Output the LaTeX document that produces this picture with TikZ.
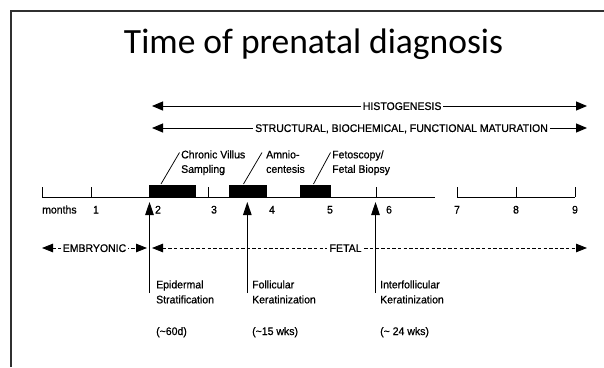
\documentclass[tikz,border=0pt]{standalone}
\usepackage{fontspec}
\usetikzlibrary{arrows.meta}
\newfontfamily\titlefont{Carlito}
\newfontfamily\labfont[FakeBold=0.7,FakeStretch=0.955]{Liberation Sans}
\definecolor{framegray}{HTML}{303030}
\tikzset{
  lab/.style={font=\labfont\fontsize{11}{14.5}\selectfont, inner sep=0pt},
  lablow/.style={font=\labfont\fontsize{11}{15}\selectfont, inner sep=0pt, align=left, anchor=north west},
  labup/.style={font=\labfont\fontsize{11}{14.5}\selectfont, inner sep=0pt, align=left, anchor=north west},
  harr/.style={line width=1pt, {Triangle[length=11pt,width=9pt]}-{Triangle[length=11pt,width=9pt]}},
  darr/.style={line width=0.85pt, dash pattern=on 3.4pt off 2.2pt, {Triangle[length=11pt,width=8.5pt]}-{Triangle[length=11pt,width=8.5pt]}},
  varr/.style={line width=1pt, -{Triangle[length=13pt,width=8.5pt]}},
  onlab/.style={font=\labfont\fontsize{11}{12}\selectfont, fill=white, inner xsep=2pt, inner ysep=1pt, text height=7.9pt, text depth=0pt},
  boxnode/.style={fill=black, inner sep=0pt, minimum height=12.5pt},
  tickline/.style={line width=0.9pt},
  leader/.style={line width=0.75pt},
}
\begin{document}
\begin{tikzpicture}[x=1pt,y=-1pt]
\useasboundingbox (0,0) rectangle (604,367);
% slide frame
\draw[framegray, line width=2.2pt] (11,367) -- (11,11) -- (604,11);
% title
\node[font=\titlefont\fontsize{35.5}{40}\selectfont, inner sep=0pt, anchor=base] (title) at (313.5,53) {Time of prenatal diagnosis};
% long arrows
\coordinate (hL) at (152,106); \coordinate (hR) at (587,106);
\draw[harr] (hL) -- node[onlab, pos=0.575] (histo) {HISTOGENESIS} (hR);
\coordinate (sL) at (152,128); \coordinate (sR) at (587,128);
\draw[harr] (sL) -- node[onlab, pos=0.5736] (struct) {STRUCTURAL, BIOCHEMICAL, FUNCTIONAL MATURATION} (sR);
% axis
\coordinate (ax1) at (42,197); \coordinate (ax2) at (435,197);
\coordinate (ax3) at (457,197); \coordinate (ax4) at (575,197);
\draw[tickline] (ax1) -- (ax2);
\draw[tickline] (ax3) -- (ax4);
\foreach \x/\nm in {42/t0,91/t1,208/t3,376/t6,457/t7,516/t8,575/t9}{
  \coordinate (\nm a) at (\x,187); \coordinate (\nm b) at (\x,197);
  \draw[tickline] (\nm a) -- (\nm b);
}
% boxes
\node[boxnode, minimum width=47pt] (cvs) at (172.5,191.25) {};
\node[boxnode, minimum width=38pt] (amn) at (248,191.25) {};
\node[boxnode, minimum width=31pt] (fet) at (315.5,191.25) {};
% procedure labels
\node[labup] (cvslab) at (181,150.2) {Chronic Villus\\Sampling};
\node[labup] (amnlab) at (266,150.2) {Amnio-\\centesis};
\node[labup] (fetlab) at (332,150.2) {Fetoscopy/\\Fetal Biopsy};
\coordinate (l1a) at (161,184); \coordinate (l1b) at (179.5,152.5);
\coordinate (l2a) at (243.5,184); \coordinate (l2b) at (262,152.5);
\coordinate (l3a) at (313.5,184); \coordinate (l3b) at (330.5,152.5);
\draw[leader] (l1a) -- (l1b);
\draw[leader] (l2a) -- (l2b);
\draw[leader] (l3a) -- (l3b);
% axis labels
\node[lab, anchor=base west] (months) at (42,213.5) {months};
\foreach \x/\n in {96/1,158/2,214/3,272/4,330/5,389/6,457/7,516/8,575/9}{
  \node[lab, anchor=base] (num\n) at (\x,213.5) {\n};
}
% embryonic / fetal
\coordinate (eL) at (42,248); \coordinate (eR) at (147,248);
\draw[darr] (eL) -- node[onlab, pos=0.5, inner xsep=1.5pt] (emb) {EMBRYONIC} (eR);
\coordinate (fL) at (152,248); \coordinate (fR) at (587,248);
\draw[darr] (fL) -- node[onlab, pos=0.445, inner xsep=2.5pt] (fetal) {FETAL} (fR);
% vertical arrows
\coordinate (v1b) at (149.5,293); \coordinate (v1t) at (149.5,202);
\coordinate (v2b) at (247.3,293); \coordinate (v2t) at (247.3,202);
\coordinate (v3b) at (375.5,293); \coordinate (v3t) at (375.5,202);
\draw[varr] (v1b) -- (v1t);
\draw[varr] (v2b) -- (v2t);
\draw[varr] (v3b) -- (v3t);
% event labels
\node[lablow] (epi) at (156,280.2) {Epidermal\\Stratification};
\node[lablow] (fol) at (252,280.2) {Follicular\\Keratinization};
\node[lablow] (inter) at (380,280.2) {Interfollicular\\Keratinization};
\node[lab, anchor=base west] (epit) at (156,335) {(\textasciitilde60d)};
\node[lab, anchor=base west] (folt) at (252,335) {(\textasciitilde15 wks)};
\node[lab, anchor=base west] (intert) at (380,335) {(\textasciitilde\ 24 wks)};
\end{tikzpicture}
\end{document}
